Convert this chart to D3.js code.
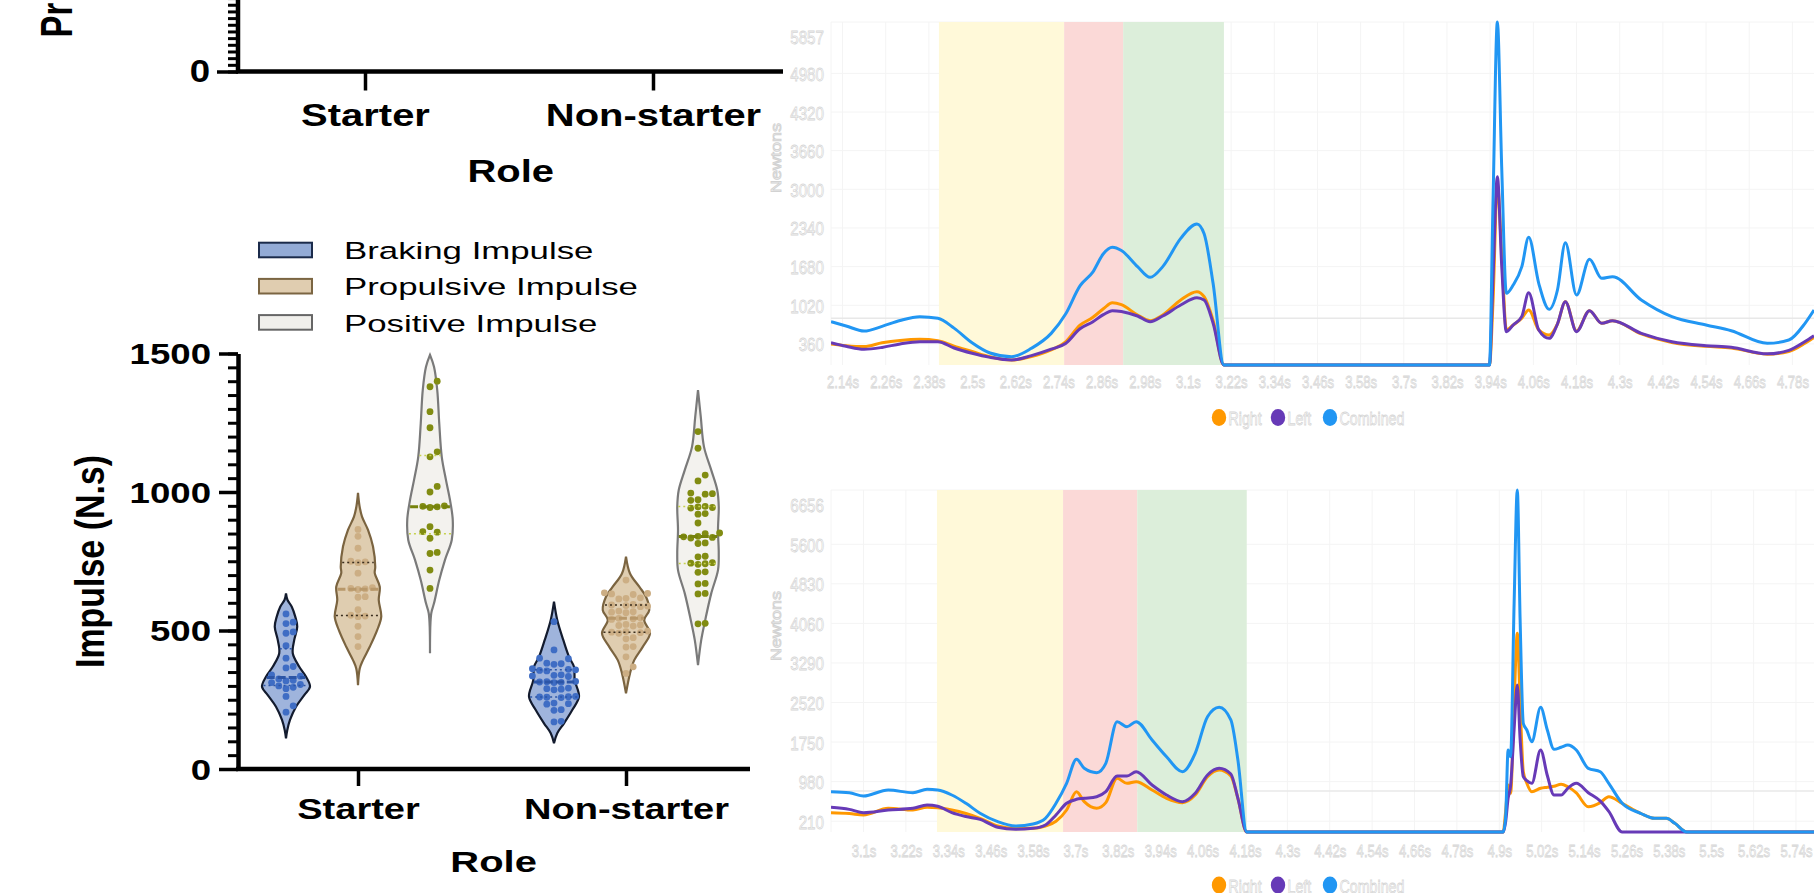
<!DOCTYPE html>
<html>
<head>
<meta charset="utf-8">
<script src="https://cdn.jsdelivr.net/npm/d3@7"></script>
<style>
  html, body { margin: 0; padding: 0; background: #fff; }
  svg { display: block; }
</style>
</head>
<body>
<svg id="chart" width="1814" height="893"></svg>
<script>
// ---------------- data: impulse violins ----------------
const roles = ["Starter", "Non-starter"];
const impulseTypes = ["Braking Impulse", "Propulsive Impulse", "Positive Impulse"];
const impulseTicks = [0, 500, 1000, 1500];

const starterBraking = [560, 530, 525, 495, 490, 445, 400, 370, 365, 340, 335, 325, 320, 318, 312, 305, 300, 295, 290, 262, 228, 205];
const starterPropulsive = [865, 840, 797, 750, 748, 745, 707, 655, 652, 650, 648, 622, 620, 575, 555, 552, 550, 515, 478, 442];
const starterPositive = [1400, 1380, 1290, 1232, 1145, 1127, 1020, 1000, 950, 948, 946, 944, 875, 857, 855, 833, 782, 778, 718, 652];
const nonStarterBraking = [532, 430, 400, 398, 382, 380, 378, 362, 360, 358, 356, 354, 340, 338, 336, 334, 316, 315, 314, 313, 312, 292, 290, 288, 286, 262, 261, 260, 259, 258, 238, 236, 234, 214, 212, 172, 170];
const nonStarterPropulsive = [682, 636, 634, 632, 630, 618, 616, 614, 594, 592, 590, 588, 586, 570, 568, 566, 564, 546, 544, 542, 540, 522, 520, 518, 516, 498, 496, 494, 492, 490, 474, 470, 442, 440, 405, 369, 345];
const nonStarterPositive = [1218, 1158, 1061, 1040, 996, 994, 992, 972, 970, 948, 946, 944, 942, 922, 920, 888, 852, 850, 840, 838, 836, 834, 816, 814, 768, 766, 745, 743, 741, 739, 712, 710, 670, 668, 634, 632, 526, 524];

// density profiles: [impulse, relative density]
const starterBrakingDensity = [[634, 0], [610, 0.06], [586, 0.23], [550, 0.37], [514, 0.45], [466, 0.33], [418, 0.27], [369, 0.53], [333, 0.8], [297, 0.96], [267, 0.73], [225, 0.4], [177, 0.16], [140, 0.05], [111, 0]];
const starterPropulsiveDensity = [[997, 0], [950, 0.06], [911, 0.16], [863, 0.4], [803, 0.6], [730, 0.69], [707, 0.67], [658, 0.87], [610, 0.83], [550, 0.93], [502, 0.77], [441, 0.47], [393, 0.2], [363, 0.07], [303, 0]];
const starterPositiveDensity = [[1495, 0], [1452, 0.16], [1368, 0.29], [1248, 0.37], [1127, 0.47], [1043, 0.64], [971, 0.8], [899, 0.91], [827, 0.87], [755, 0.6], [682, 0.37], [598, 0.16], [562, 0.05], [418, 0]];
const nonStarterBrakingDensity = [[604, 0], [538, 0.13], [466, 0.37], [405, 0.6], [369, 0.8], [321, 0.83], [261, 1.0], [213, 0.73], [165, 0.4], [129, 0.13], [93, 0]];
const nonStarterPropulsiveDensity = [[767, 0], [706, 0.16], [658, 0.53], [622, 0.8], [574, 0.93], [538, 0.73], [490, 0.96], [441, 0.67], [393, 0.33], [345, 0.16], [273, 0]];
const nonStarterPositiveDensity = [[1368, 0], [1272, 0.11], [1163, 0.24], [1079, 0.53], [1007, 0.77], [947, 0.83], [863, 0.8], [779, 0.83], [718, 0.8], [634, 0.53], [538, 0.29], [466, 0.13], [375, 0]];

// ---------------- data: force-time traces ----------------
const seriesNames = ["Right", "Left", "Combined"];

const trial1Time = [2.108, 2.15, 2.20, 2.25, 2.30, 2.355, 2.405, 2.45, 2.50, 2.55, 2.61, 2.665, 2.72, 2.76, 2.80, 2.835, 2.865, 2.89, 2.915, 2.96, 2.995, 3.03, 3.08, 3.125, 3.145, 3.17, 3.20, 3.938, 3.948, 3.96, 3.972, 3.985, 4.004, 4.028, 4.047, 4.075, 4.104, 4.127, 4.149, 4.18, 4.216, 4.25, 4.28, 4.36, 4.445, 4.54, 4.61, 4.71, 4.77, 4.815, 4.84];
const trial1Right = [358, 330, 315, 380, 420, 438, 415, 320, 230, 140, 85, 145, 260, 395, 680, 810, 960, 1064, 1030, 854, 757, 854, 1110, 1252, 1166, 760, 0, 0, 1100, 3080, 1900, 600, 683, 800, 940, 600, 512, 700, 1081, 580, 928, 712, 757, 530, 385, 318, 292, 185, 230, 370, 470];
const trial1Left = [381, 320, 268, 300, 360, 398, 398, 290, 200, 130, 85, 160, 270, 368, 620, 735, 860, 928, 915, 837, 740, 837, 1025, 1150, 1110, 712, 0, 0, 1500, 3216, 1700, 569, 683, 830, 1235, 598, 455, 700, 1081, 569, 928, 712, 757, 541, 398, 330, 302, 190, 250, 400, 500];
const trial1Combined = [740, 666, 580, 660, 760, 825, 797, 630, 380, 205, 142, 285, 540, 870, 1350, 1580, 1900, 2010, 1955, 1680, 1497, 1680, 2163, 2408, 2240, 1390, 0, 0, 2818, 5857, 3386, 1224, 1366, 1679, 2180, 1395, 951, 1281, 2089, 1195, 1805, 1480, 1508, 1110, 825, 683, 586, 370, 427, 712, 939];
const trial1XTicks = [2.14, 2.26, 2.38, 2.5, 2.62, 2.74, 2.86, 2.98, 3.1, 3.22, 3.34, 3.46, 3.58, 3.7, 3.82, 3.94, 4.06, 4.18, 4.3, 4.42, 4.54, 4.66, 4.78];
const trial1YTicks = [360, 1020, 1680, 2340, 3000, 3660, 4320, 4980];
const trial1Max = 5857;
const trial1Phases = [2.408, 2.756, 2.920, 3.200];
const trial1BodyWeight = 800;

const trial2Time = [3.008, 3.06, 3.10, 3.17, 3.24, 3.28, 3.31, 3.35, 3.39, 3.43, 3.48, 3.53, 3.58, 3.615, 3.645, 3.675, 3.703, 3.725, 3.76, 3.786, 3.818, 3.846, 3.872, 3.917, 3.958, 4.003, 4.039, 4.074, 4.107, 4.14, 4.16, 4.185, 4.911, 4.918, 4.925, 4.932, 4.942, 4.951, 4.959, 4.968, 4.978, 4.992, 5.017, 5.036, 5.055, 5.075, 5.094, 5.118, 5.152, 5.186, 5.21, 5.248, 5.30, 5.34, 5.373, 5.397, 5.431, 5.791];
const trial2Right = [376, 360, 331, 461, 428, 480, 470, 428, 360, 266, 117, 72, 72, 117, 208, 428, 784, 590, 461, 571, 1045, 947, 979, 817, 655, 571, 720, 1076, 1206, 1090, 655, 0, 0, 400, 915, 753, 2500, 3867, 2504, 1173, 950, 784, 850, 870, 890, 930, 880, 760, 492, 571, 687, 558, 364, 266, 266, 169, 0, 0];
const trial2Left = [480, 440, 376, 428, 461, 525, 500, 376, 300, 247, 91, 52, 72, 137, 331, 558, 636, 655, 687, 784, 1090, 1090, 1173, 915, 720, 590, 753, 1109, 1239, 1129, 655, 0, 0, 200, 655, 900, 2000, 2861, 1800, 1076, 1000, 947, 1596, 1100, 720, 720, 850, 947, 765, 600, 400, 0, 0, 0, 0, 0, 0, 0];
const trial2Combined = [784, 765, 700, 817, 765, 830, 817, 720, 558, 364, 201, 117, 156, 266, 558, 947, 1414, 1239, 1154, 1337, 2147, 2049, 2147, 1790, 1465, 1173, 1531, 2244, 2426, 2180, 1401, 0, 0, 300, 1596, 1465, 4450, 6656, 4125, 2115, 1985, 1757, 2426, 1985, 1609, 1650, 1693, 1596, 1239, 1173, 947, 558, 364, 266, 266, 169, 0, 0];
const trial2XTicks = [3.1, 3.22, 3.34, 3.46, 3.58, 3.7, 3.82, 3.94, 4.06, 4.18, 4.3, 4.42, 4.54, 4.66, 4.78, 4.9, 5.02, 5.14, 5.26, 5.38, 5.5, 5.62, 5.74];
const trial2YTicks = [210, 980, 1750, 2520, 3290, 4060, 4830, 5600];
const trial2Max = 6656;
const trial2Phases = [3.308, 3.665, 3.875, 4.185];
const trial2BodyWeight = 800;

// ---------------- helpers ----------------
const FONT = '"Liberation Sans", Arial, Helvetica, sans-serif';
const svg = d3.select('#chart');
svg.append('rect').attr('width', 1814).attr('height', 893).attr('fill', '#fff');

// the source figure is squashed/stretched; fit text widths accordingly
function stretch(sel, k) {
  sel.each(function () {
    const w = this.getComputedTextLength();
    if (w > 0) d3.select(this).attr('textLength', w * k).attr('lengthAdjust', 'spacingAndGlyphs');
  });
}

function styleAxis(g, width) {
  g.select('.domain').attr('stroke', '#000').attr('stroke-width', width);
  g.selectAll('.tick line').attr('stroke', '#000').attr('stroke-width', 3.5);
  g.selectAll('.tick text').attr('fill', '#000').attr('font-family', FONT).attr('font-weight', 'bold');
}

// ---------------- top-left partial chart ----------------
{
  const y = d3.scaleLinear().domain([0, 20]).range([71.5, -62]);
  const x = d3.scalePoint().domain(roles).range([365, 653]);
  const g = svg.append('g');

  g.append('g').attr('transform', 'translate(238,0)')
    .call(d3.axisLeft(y).ticks(20).tickSize(10).tickFormat('').tickSizeOuter(0))
    .call(a => a.select('.domain').remove())
    .call(a => a.selectAll('.tick line').attr('stroke', '#000').attr('stroke-width', 3));

  // only the zero label falls inside the cropped view
  const ya = g.append('g').attr('transform', 'translate(238,0)')
    .call(d3.axisLeft(y).tickValues([0]).tickSize(21).tickPadding(7).tickSizeOuter(0));
  styleAxis(ya, 4.5);
  ya.select('.domain').attr('d', 'M0,71.5V-62');
  ya.selectAll('.tick text').attr('font-size', 30.5).attr('dy', '0.34em').call(stretch, 1.2);

  const xa = g.append('g').attr('transform', 'translate(0,71.5)')
    .call(d3.axisBottom(x).tickSize(19).tickSizeOuter(0));
  styleAxis(xa, 4.5);
  xa.select('.domain').attr('d', 'M236,0H783');
  xa.selectAll('.tick text').attr('font-size', 30.5).attr('y', 54.5).attr('dy', 0).call(stretch, 1.31);

  g.append('text').attr('x', 510.7).attr('y', 181.7).attr('text-anchor', 'middle')
    .attr('font-family', FONT).attr('font-weight', 'bold').attr('font-size', 30.5)
    .text('Role').call(stretch, 1.31);

  g.append('text').attr('transform', 'translate(72,37.5) scale(1.33,1) rotate(-90)')
    .attr('font-family', FONT).attr('font-weight', 'bold').attr('font-size', 33)
    .text('Pr');
}

// ---------------- violin chart ----------------
{
  const y = d3.scaleLinear().domain([0, 1500]).range([769, 353.5]);
  const xRole = d3.scalePoint().domain(roles).range([358, 626]);
  const xType = d3.scalePoint().domain(impulseTypes).range([-72, 72]);
  const w = d3.scaleLinear().domain([0, 1]).range([0, 25]);

  const fills = ['#9fb4dc', '#dfcdb0', '#f3f2ee'];
  const strokes = ['#131b2e', '#7b6440', '#7a7a7a'];
  const dotFills = ['#3f6dc4', '#ccae84', '#818c12'];
  const medianColors = ['#2c55a6', '#b8986a', '#76820c'];
  const quartColors = ['#2c55a6', '#3a2e1e', '#c6d24e'];

  const violins = [
    {role: roles[0], type: 0, values: starterBraking, profile: starterBrakingDensity},
    {role: roles[0], type: 1, values: starterPropulsive, profile: starterPropulsiveDensity},
    {role: roles[0], type: 2, values: starterPositive, profile: starterPositiveDensity},
    {role: roles[1], type: 0, values: nonStarterBraking, profile: nonStarterBrakingDensity},
    {role: roles[1], type: 1, values: nonStarterPropulsive, profile: nonStarterPropulsiveDensity},
    {role: roles[1], type: 2, values: nonStarterPositive, profile: nonStarterPositiveDensity}
  ];

  const g = svg.append('g');

  violins.forEach(v => {
    const cx = xRole(v.role) + xType(impulseTypes[v.type]);
    const area = d3.area().curve(d3.curveCatmullRom)
      .y(d => y(d[0]))
      .x0(d => cx - w(d[1]))
      .x1(d => cx + w(d[1]));
    g.append('path').datum(v.profile).attr('d', area)
      .attr('fill', fills[v.type]).attr('stroke', strokes[v.type]).attr('stroke-width', 2.2);

    // swarm the points inside the violin
    const r = 3.4, step = 7.2;
    const placed = [];
    v.values.slice().sort((a, b) => a - b).forEach(val => {
      const py = y(val);
      let off = 0;
      for (let i = 0; i < 40; i++) {
        off = i === 0 ? 0 : (i % 2 ? 1 : -1) * Math.ceil(i / 2) * step;
        if (!placed.some(p => Math.hypot(p.dx - off, p.y - py) < 2 * r)) break;
      }
      placed.push({dx: off, y: py});
    });
    g.append('g').selectAll('circle').data(placed).join('circle')
      .attr('cx', d => cx + d.dx).attr('cy', d => d.y).attr('r', r)
      .attr('fill', dotFills[v.type]);

    // median + quartiles
    const sorted = v.values.slice().sort(d3.ascending);
    const dens = d3.scaleLinear().domain(v.profile.map(p => p[0])).range(v.profile.map(p => p[1])).clamp(true);
    const stats = [
      {q: d3.quantile(sorted, 0.25), median: false},
      {q: d3.quantile(sorted, 0.75), median: false},
      {q: d3.quantile(sorted, 0.5), median: true}
    ];
    g.append('g').selectAll('line').data(stats).join('line')
      .attr('x1', d => cx - w(dens(d.q)) + 1).attr('x2', d => cx + w(dens(d.q)) - 1)
      .attr('y1', d => y(d.q)).attr('y2', d => y(d.q))
      .attr('stroke', d => d.median ? medianColors[v.type] : quartColors[v.type])
      .attr('stroke-width', d => d.median ? 3 : 1.5)
      .attr('stroke-dasharray', d => d.median ? '8,3' : '2,3');
  });

  // axes
  g.append('g').attr('transform', 'translate(238,0)')
    .call(d3.axisLeft(y).ticks(30).tickSize(10).tickFormat('').tickSizeOuter(0))
    .call(a => a.select('.domain').remove())
    .call(a => a.selectAll('.tick line').attr('stroke', '#000').attr('stroke-width', 3));

  const ya = g.append('g').attr('transform', 'translate(238,0)')
    .call(d3.axisLeft(y).tickValues(impulseTicks).tickSize(19).tickPadding(8).tickSizeOuter(0).tickFormat(d3.format('d')));
  styleAxis(ya, 4.5);
  ya.selectAll('.tick text').attr('font-size', 29.5).attr('dy', '0.35em').call(stretch, 1.24);

  const xa = g.append('g').attr('transform', 'translate(0,769)')
    .call(d3.axisBottom(xRole).tickSize(17).tickSizeOuter(0));
  styleAxis(xa, 4.5);
  xa.select('.domain').attr('d', 'M236,0H750');
  xa.selectAll('.tick text').attr('font-size', 29.5).attr('y', 50.3).attr('dy', 0).call(stretch, 1.29);

  g.append('text').attr('x', 493.6).attr('y', 871.7).attr('text-anchor', 'middle')
    .attr('font-family', FONT).attr('font-weight', 'bold').attr('font-size', 30)
    .text('Role').call(stretch, 1.33);

  g.append('text').attr('transform', 'translate(104,561.5) scale(1.33,1) rotate(-90)')
    .attr('text-anchor', 'middle')
    .attr('font-family', FONT).attr('font-weight', 'bold').attr('font-size', 31)
    .attr('textLength', 213).attr('lengthAdjust', 'spacingAndGlyphs')
    .text('Impulse (N.s)');

  // legend
  const legendFill = ['#93abd6', '#e0cdb0', '#f0efeb'];
  const legendStroke = ['#1b2b4b', '#7b6542', '#666666'];
  const ly = d3.scalePoint().domain(impulseTypes).range([0, 72.4]);
  const lg = g.append('g').selectAll('g').data(impulseTypes).join('g')
    .attr('transform', d => `translate(0,${ly(d)})`);
  lg.append('rect').attr('x', 259).attr('y', 242.7).attr('width', 53).attr('height', 14.6)
    .attr('fill', (d, i) => legendFill[i]).attr('stroke', (d, i) => legendStroke[i]).attr('stroke-width', 2);
  lg.append('text').attr('x', 344).attr('y', 259.3)
    .attr('font-family', FONT).attr('font-size', 24.5).attr('fill', '#000')
    .text(d => d).call(stretch, 1.42);
}

// ---------------- force-time charts ----------------
function drawForce(o) {
  const x = d3.scaleLinear().domain(o.xDomain).range([831, 1814]);
  const y = d3.scaleLinear().domain([0, o.max]).range([o.bottom, o.top]);
  const g = svg.append('g');

  // grid
  g.append('g').selectAll('line').data(o.xTicks.concat([o.xDomain[0]])).join('line')
    .attr('x1', d => x(d)).attr('x2', d => x(d)).attr('y1', o.top).attr('y2', o.bottom)
    .attr('stroke', '#f4f4f4').attr('stroke-width', 1);
  g.append('g').selectAll('line').data(o.yTicks.concat([o.max])).join('line')
    .attr('x1', 831).attr('x2', 1814).attr('y1', d => y(d)).attr('y2', d => y(d))
    .attr('stroke', '#f4f4f4').attr('stroke-width', 1);
  g.append('line').attr('x1', 831).attr('x2', 1814)
    .attr('y1', y(o.bodyWeight)).attr('y2', y(o.bodyWeight))
    .attr('stroke', '#e8e8e8').attr('stroke-width', 1.5);

  // movement phases
  const bandColors = ['#fff9d9', '#fbd9d7', '#dceeda'];
  g.append('g').selectAll('rect').data(d3.pairs(o.phases)).join('rect')
    .attr('x', d => x(d[0])).attr('width', d => x(d[1]) - x(d[0]))
    .attr('y', o.top).attr('height', o.bottom - o.top)
    .attr('fill', (d, i) => bandColors[i]);

  // traces
  const clipId = 'clip' + o.id;
  svg.append('clipPath').attr('id', clipId).append('rect')
    .attr('x', 831).attr('y', o.top - 5).attr('width', 983).attr('height', o.bottom - o.top + 10);
  const line = d3.line().curve(d3.curveMonotoneX).x(d => x(d[0])).y(d => y(d[1]));
  const colors = ['#ff9800', '#673ab7', '#2196f3'];
  const series = [o.right, o.left, o.combined];
  g.append('g').attr('clip-path', `url(#${clipId})`)
    .selectAll('path').data(series).join('path')
    .attr('d', s => line(d3.zip(o.time, s)))
    .attr('fill', 'none').attr('stroke', (d, i) => colors[i])
    .attr('stroke-width', 3).attr('stroke-linejoin', 'round');

  // outlined light labels, as in the source screenshot
  const labelStyle = t => t.attr('fill', '#fff').attr('stroke', '#d6d6d6').attr('stroke-width', 0.8)
    .attr('font-family', FONT);

  // y axis
  const ya = g.append('g').attr('transform', 'translate(831,0)')
    .call(d3.axisLeft(y).tickValues(o.yTicks.concat([o.max])).tickSize(0).tickPadding(7).tickFormat(d3.format('d')));
  ya.select('.domain').remove();
  ya.selectAll('.tick text').call(labelStyle).attr('font-size', 19).attr('dy', '0.37em')
    .call(stretch, 0.8);
  ya.selectAll('.tick text').filter(d => d === o.max).attr('y', 14);

  // x axis
  const xa = g.append('g').attr('transform', `translate(0,${o.bottom})`)
    .call(d3.axisBottom(x).tickValues(o.xTicks).tickSize(0).tickFormat(d => d + 's'));
  xa.select('.domain').remove();
  xa.selectAll('.tick text').call(labelStyle).attr('font-size', 17).attr('y', o.xLabelY).attr('dy', 0)
    .call(stretch, 0.77);

  // y title
  g.append('text').attr('transform', `translate(781,${o.titleY}) rotate(-90)`)
    .attr('text-anchor', 'middle').attr('font-size', 14).call(labelStyle)
    .attr('fill', '#f2f2f2').attr('stroke', '#d2d2d2')
    .attr('textLength', 70).attr('lengthAdjust', 'spacingAndGlyphs')
    .text('Newtons');

  // legend
  const lx = [1219, 1278, 1330];
  const lgd = g.append('g').selectAll('g').data(seriesNames).join('g')
    .attr('transform', (d, i) => `translate(${lx[i]},${o.legendY})`);
  lgd.append('ellipse').attr('rx', 7.2).attr('ry', 8.5).attr('fill', (d, i) => colors[i]);
  lgd.append('text').attr('x', 9.5).attr('y', 7.5).attr('font-size', 18.5).call(labelStyle)
    .text(d => d).call(stretch, 0.77);
}

drawForce({
  id: 1, time: trial1Time, right: trial1Right, left: trial1Left, combined: trial1Combined,
  xTicks: trial1XTicks, yTicks: trial1YTicks, max: trial1Max, phases: trial1Phases,
  bodyWeight: trial1BodyWeight, xDomain: [2.108, 4.840], top: 22, bottom: 365,
  xLabelY: 23.3, titleY: 158, legendY: 417.5
});
drawForce({
  id: 2, time: trial2Time, right: trial2Right, left: trial2Left, combined: trial2Combined,
  xTicks: trial2XTicks, yTicks: trial2YTicks, max: trial2Max, phases: trial2Phases,
  bodyWeight: trial2BodyWeight, xDomain: [3.008, 5.791], top: 490, bottom: 832,
  xLabelY: 24.7, titleY: 626, legendY: 885
});
</script>
</body>
</html>
